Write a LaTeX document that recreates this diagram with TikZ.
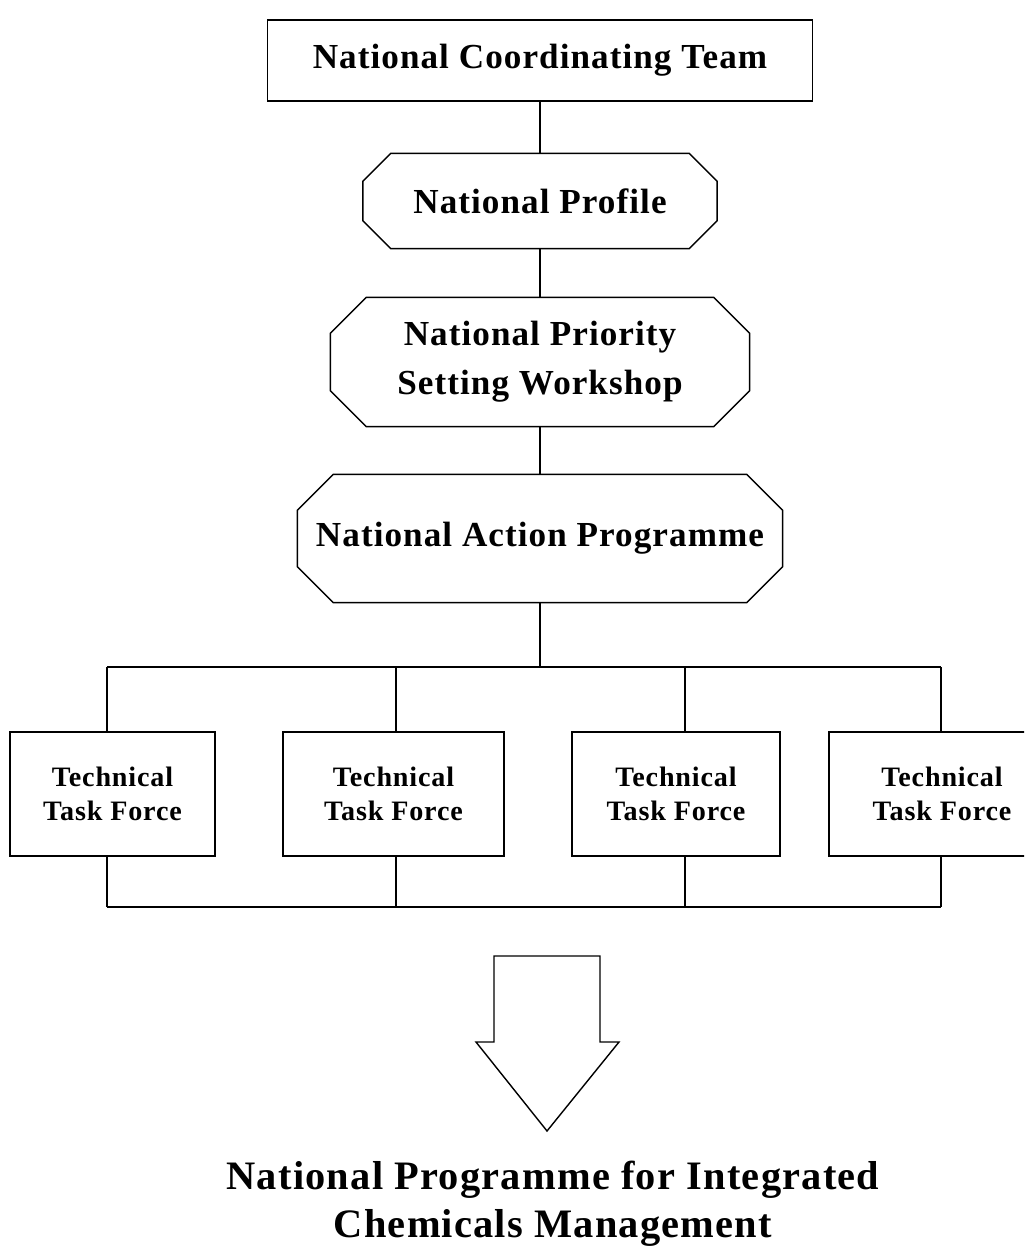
\documentclass[tikz,border=0pt]{standalone}
\usepackage{fontspec}
\setmainfont{Liberation Serif}[LetterSpace=3]
\usetikzlibrary{calc}
\tikzset{
    chart/.style={x=0.02cm, y=-0.02cm, line width=0.8pt},
    teambox/.style={draw, rectangle, inner sep=0pt, minimum width=10.9cm, minimum height=1.62cm,
        font=\fontsize{20}{24}\selectfont\bfseries},
    stage/.style={rectangle, inner sep=0pt, align=center, font=\fontsize{20}{28}\selectfont\bfseries},
    taskbox/.style={draw, rectangle, inner sep=0pt, align=center, minimum height=2.48cm,
        font=\fontsize{16}{19}\selectfont\bfseries},
    outcome/.style={align=center, font=\fontsize{23}{27.5}\selectfont\bfseries}
}
% octagon frame round a node: name, corner cut
\newcommand{\octframe}[2]{%
    \draw ($(#1.north west)+(#2,0)$) -- ($(#1.north east)+(-#2,0)$) -- ($(#1.north east)+(0,#2)$)
        -- ($(#1.south east)+(0,-#2)$) -- ($(#1.south east)+(-#2,0)$) -- ($(#1.south west)+(#2,0)$)
        -- ($(#1.south west)+(0,-#2)$) -- ($(#1.north west)+(0,#2)$) -- cycle;}

\begin{document}
\begin{tikzpicture}[chart]
    \useasboundingbox (0,0) rectangle (1024,1256);
    \clip (0,0) rectangle (1024,1256);

    \node[teambox] (team) at (540,60.5) {National Coordinating Team};
    \node[stage, minimum width=7.06cm, minimum height=1.88cm] (profile) at (540,201) {National Profile};
    \octframe{profile}{28}
    \node[stage, minimum width=8.36cm, minimum height=2.56cm] (priority) at (540,362)
        {National Priority\\Setting Workshop};
    \octframe{priority}{36}
    \node[stage, minimum width=9.68cm, minimum height=2.54cm] (action) at (540,538.5)
        {National Action Programme};
    \octframe{action}{36}

    \draw (team) -- (profile);
    \draw (profile) -- (priority);
    \draw (priority) -- (action);

    % task forces
    \node[taskbox, minimum width=4.1cm] (tf1) at (112.5,794) {Technical\\Task Force};
    \node[taskbox, minimum width=4.42cm] (tf2) at (393.5,794) {Technical\\Task Force};
    \node[taskbox, minimum width=4.16cm] (tf3) at (676,794) {Technical\\Task Force};
    \node[taskbox, minimum width=4.52cm] (tf4) at (942,794) {Technical\\Task Force};

    \coordinate (hub) at (540,667);
    \draw (action) -- (hub);
    \foreach \i/\x in {1/107,2/396,3/685,4/941} {
        \coordinate (up\i) at (\x,667);
        \coordinate (dn\i) at (\x,907);
        \draw (up\i) -- (up\i |- tf\i.north);
        \draw (dn\i) -- (dn\i |- tf\i.south);
    }
    \draw (up1) -- (up4);
    \draw (dn1) -- (dn4);

    % big down arrow
    \draw (494,956) -- (600,956) -- (600,1042) -- (619,1042) -- (547,1131)
        -- (476,1042) -- (494,1042) -- cycle;

    \node[outcome] (result) at (553,1204) {National Programme for Integrated\\Chemicals Management};
\end{tikzpicture}
\end{document}
